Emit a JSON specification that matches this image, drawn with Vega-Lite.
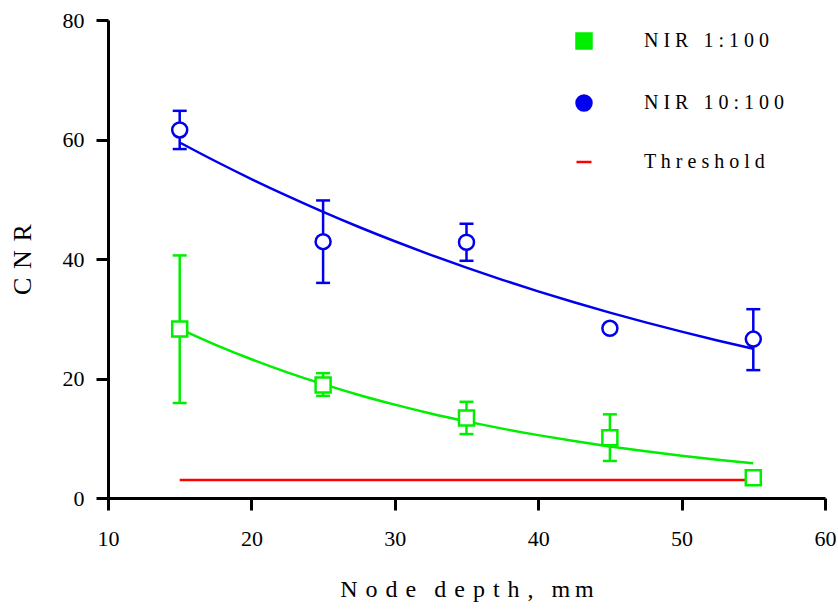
{
  "$schema": "https://vega.github.io/schema/vega-lite/v6.json",
  "width": 717,
  "height": 478,
  "autosize": "none",
  "padding": {"left": 108, "top": 20, "right": 13, "bottom": 111},
  "background": "white",
  "config": {
    "view": {"stroke": null},
    "font": "Liberation Serif"
  },
  "datasets": {
    "points": [
      {"depth": 15, "cnr": 28.3, "lo": 15.9, "hi": 40.6, "series": "NIR 1:100"},
      {"depth": 25, "cnr": 18.9, "lo": 17.1, "hi": 20.9, "series": "NIR 1:100"},
      {"depth": 35, "cnr": 13.4, "lo": 10.7, "hi": 16.1, "series": "NIR 1:100"},
      {"depth": 45, "cnr": 10.1, "lo": 6.2, "hi": 14.0, "series": "NIR 1:100"},
      {"depth": 55, "cnr": 3.4, "lo": null, "hi": null, "series": "NIR 1:100"},
      {"depth": 15, "cnr": 61.6, "lo": 58.4, "hi": 64.8, "series": "NIR 10:100"},
      {"depth": 25, "cnr": 42.9, "lo": 36.0, "hi": 49.8, "series": "NIR 10:100"},
      {"depth": 35, "cnr": 42.8, "lo": 39.7, "hi": 45.9, "series": "NIR 10:100"},
      {"depth": 45, "cnr": 28.4, "lo": null, "hi": null, "series": "NIR 10:100"},
      {"depth": 55, "cnr": 26.6, "lo": 21.4, "hi": 31.6, "series": "NIR 10:100"}
    ],
    "fits": [
      {"depth": 15, "cnr": 28.3, "series": "NIR 1:100"},
      {"depth": 17.5, "cnr": 25.63, "series": "NIR 1:100"},
      {"depth": 20, "cnr": 23.22, "series": "NIR 1:100"},
      {"depth": 22.5, "cnr": 21.03, "series": "NIR 1:100"},
      {"depth": 25, "cnr": 19.05, "series": "NIR 1:100"},
      {"depth": 27.5, "cnr": 17.25, "series": "NIR 1:100"},
      {"depth": 30, "cnr": 15.63, "series": "NIR 1:100"},
      {"depth": 32.5, "cnr": 14.15, "series": "NIR 1:100"},
      {"depth": 35, "cnr": 12.82, "series": "NIR 1:100"},
      {"depth": 37.5, "cnr": 11.61, "series": "NIR 1:100"},
      {"depth": 40, "cnr": 10.52, "series": "NIR 1:100"},
      {"depth": 42.5, "cnr": 9.53, "series": "NIR 1:100"},
      {"depth": 45, "cnr": 8.63, "series": "NIR 1:100"},
      {"depth": 47.5, "cnr": 7.81, "series": "NIR 1:100"},
      {"depth": 50, "cnr": 7.08, "series": "NIR 1:100"},
      {"depth": 52.5, "cnr": 6.41, "series": "NIR 1:100"},
      {"depth": 55, "cnr": 5.81, "series": "NIR 1:100"},
      {"depth": 15, "cnr": 59.5, "series": "NIR 10:100"},
      {"depth": 17.5, "cnr": 56.36, "series": "NIR 10:100"},
      {"depth": 20, "cnr": 53.38, "series": "NIR 10:100"},
      {"depth": 22.5, "cnr": 50.56, "series": "NIR 10:100"},
      {"depth": 25, "cnr": 47.89, "series": "NIR 10:100"},
      {"depth": 27.5, "cnr": 45.36, "series": "NIR 10:100"},
      {"depth": 30, "cnr": 42.97, "series": "NIR 10:100"},
      {"depth": 32.5, "cnr": 40.7, "series": "NIR 10:100"},
      {"depth": 35, "cnr": 38.55, "series": "NIR 10:100"},
      {"depth": 37.5, "cnr": 36.51, "series": "NIR 10:100"},
      {"depth": 40, "cnr": 34.59, "series": "NIR 10:100"},
      {"depth": 42.5, "cnr": 32.76, "series": "NIR 10:100"},
      {"depth": 45, "cnr": 31.03, "series": "NIR 10:100"},
      {"depth": 47.5, "cnr": 29.39, "series": "NIR 10:100"},
      {"depth": 50, "cnr": 27.84, "series": "NIR 10:100"},
      {"depth": 52.5, "cnr": 26.37, "series": "NIR 10:100"},
      {"depth": 55, "cnr": 24.98, "series": "NIR 10:100"},
      {"depth": 15, "cnr": 3.0, "series": "Threshold"},
      {"depth": 55, "cnr": 3.0, "series": "Threshold"}
    ]
  },
  "encoding": {
    "x": {
      "field": "depth",
      "type": "quantitative",
      "scale": {"domain": [10, 60], "nice": false, "zero": false},
      "axis": {
        "grid": false,
        "values": [10, 20, 30, 40, 50, 60],
        "domainColor": "black",
        "domainWidth": 3,
        "tickColor": "black",
        "tickWidth": 3,
        "tickSize": 12,
        "labelFlush": false,
        "labelFont": "Liberation Serif",
        "labelFontSize": 22,
        "labelColor": "black",
        "labelPadding": 18,
        "title": "N\u2004o\u2004d\u2004e \u00a0 d\u2004e\u2004p\u2004t\u2004h\u2004, \u00a0 m\u2009m",
        "titleFont": "Liberation Serif",
        "titleFontSize": 24,
        "titleFontWeight": "normal",
        "titleColor": "black",
        "titlePadding": 28
      }
    },
    "y": {
      "field": "cnr",
      "type": "quantitative",
      "scale": {"domain": [0, 80], "nice": false},
      "axis": {
        "grid": false,
        "values": [0, 20, 40, 60, 80],
        "domainColor": "black",
        "domainWidth": 3,
        "tickColor": "black",
        "tickWidth": 3,
        "tickSize": 12,
        "labelFlush": false,
        "labelFont": "Liberation Serif",
        "labelFontSize": 22,
        "labelColor": "black",
        "labelPadding": 12,
        "title": "C\u2004N\u2004R",
        "titleFont": "Liberation Serif",
        "titleFontSize": 26,
        "titleFontWeight": "normal",
        "titleColor": "black",
        "titlePadding": 27
      }
    }
  },
  "layer": [
    {
      "data": {"name": "fits"},
      "mark": {"type": "line", "strokeWidth": 2.5, "interpolate": "monotone"},
      "encoding": {
        "color": {
          "field": "series",
          "type": "nominal",
          "scale": {"domain": ["NIR 1:100", "NIR 10:100", "Threshold"], "range": ["#00ee00", "#0000ee", "#ff0000"]}
        },
        "detail": {"field": "series"}
      }
    },
    {
      "data": {"name": "points"},
      "transform": [{"fold": ["lo", "hi"], "as": ["end", "cnr"]}],
      "mark": {"type": "line", "strokeWidth": 2.5, "opacity": 1},
      "encoding": {
        "stroke": {
          "field": "series",
          "type": "nominal",
          "scale": {"domain": ["NIR 1:100", "NIR 10:100", "Threshold"], "range": ["#00ee00", "#0000ee", "#ff0000"]},
          "legend": null
        },
        "detail": {"field": "depth"}
      }
    },
    {
      "data": {"name": "points"},
      "transform": [{"fold": ["lo", "hi"], "as": ["end", "cnr"]}],
      "mark": {"type": "tick", "orient": "horizontal", "size": 14, "thickness": 2.5, "opacity": 1},
      "encoding": {
        "fill": {
          "field": "series",
          "type": "nominal",
          "scale": {"domain": ["NIR 1:100", "NIR 10:100", "Threshold"], "range": ["#00ee00", "#0000ee", "#ff0000"]},
          "legend": null
        }
      }
    },
    {
      "data": {"name": "points"},
      "mark": {"type": "point", "filled": true, "opacity": 1, "size": 225},
      "encoding": {
        "color": {"value": "white"},
        "shape": {"field": "series", "type": "nominal"}
      }
    },
    {
      "data": {"name": "points"},
      "mark": {"type": "point", "filled": false, "opacity": 1, "strokeWidth": 2.5, "size": 225},
      "encoding": {
        "color": {
          "field": "series",
          "type": "nominal",
          "legend": {
            "title": null,
            "orient": "none",
            "legendX": 466,
            "legendY": 11,
            "padding": 0,
            "labelFont": "Liberation Serif",
            "labelFontSize": 20,
            "labelColor": "black",
            "labelOffset": 50,
            "symbolSize": 225,
            "symbolStrokeWidth": 2.5,
            "symbolOpacity": 1,
            "rowPadding": 36,
            "labelExpr": "datum.label == 'NIR 1:100' ? 'N I R \u00a0 1 : 1 0 0' : datum.label == 'NIR 10:100' ? 'N I R \u00a0 1 0 : 1 0 0' : 'T h r e s h o l d'"
          }
        },
        "shape": {
          "field": "series",
          "type": "nominal",
          "scale": {"domain": ["NIR 1:100", "NIR 10:100", "Threshold"], "range": ["square", "circle", "stroke"]},
          "legend": {
            "title": null,
            "orient": "none",
            "legendX": 466,
            "legendY": 11,
            "padding": 0,
            "labelFont": "Liberation Serif",
            "labelFontSize": 20,
            "labelColor": "black",
            "labelOffset": 50,
            "symbolSize": 225,
            "symbolStrokeWidth": 2.5,
            "symbolOpacity": 1,
            "rowPadding": 36,
            "labelExpr": "datum.label == 'NIR 1:100' ? 'N I R \u00a0 1 : 1 0 0' : datum.label == 'NIR 10:100' ? 'N I R \u00a0 1 0 : 1 0 0' : 'T h r e s h o l d'"
          }
        }
      }
    }
  ]
}
